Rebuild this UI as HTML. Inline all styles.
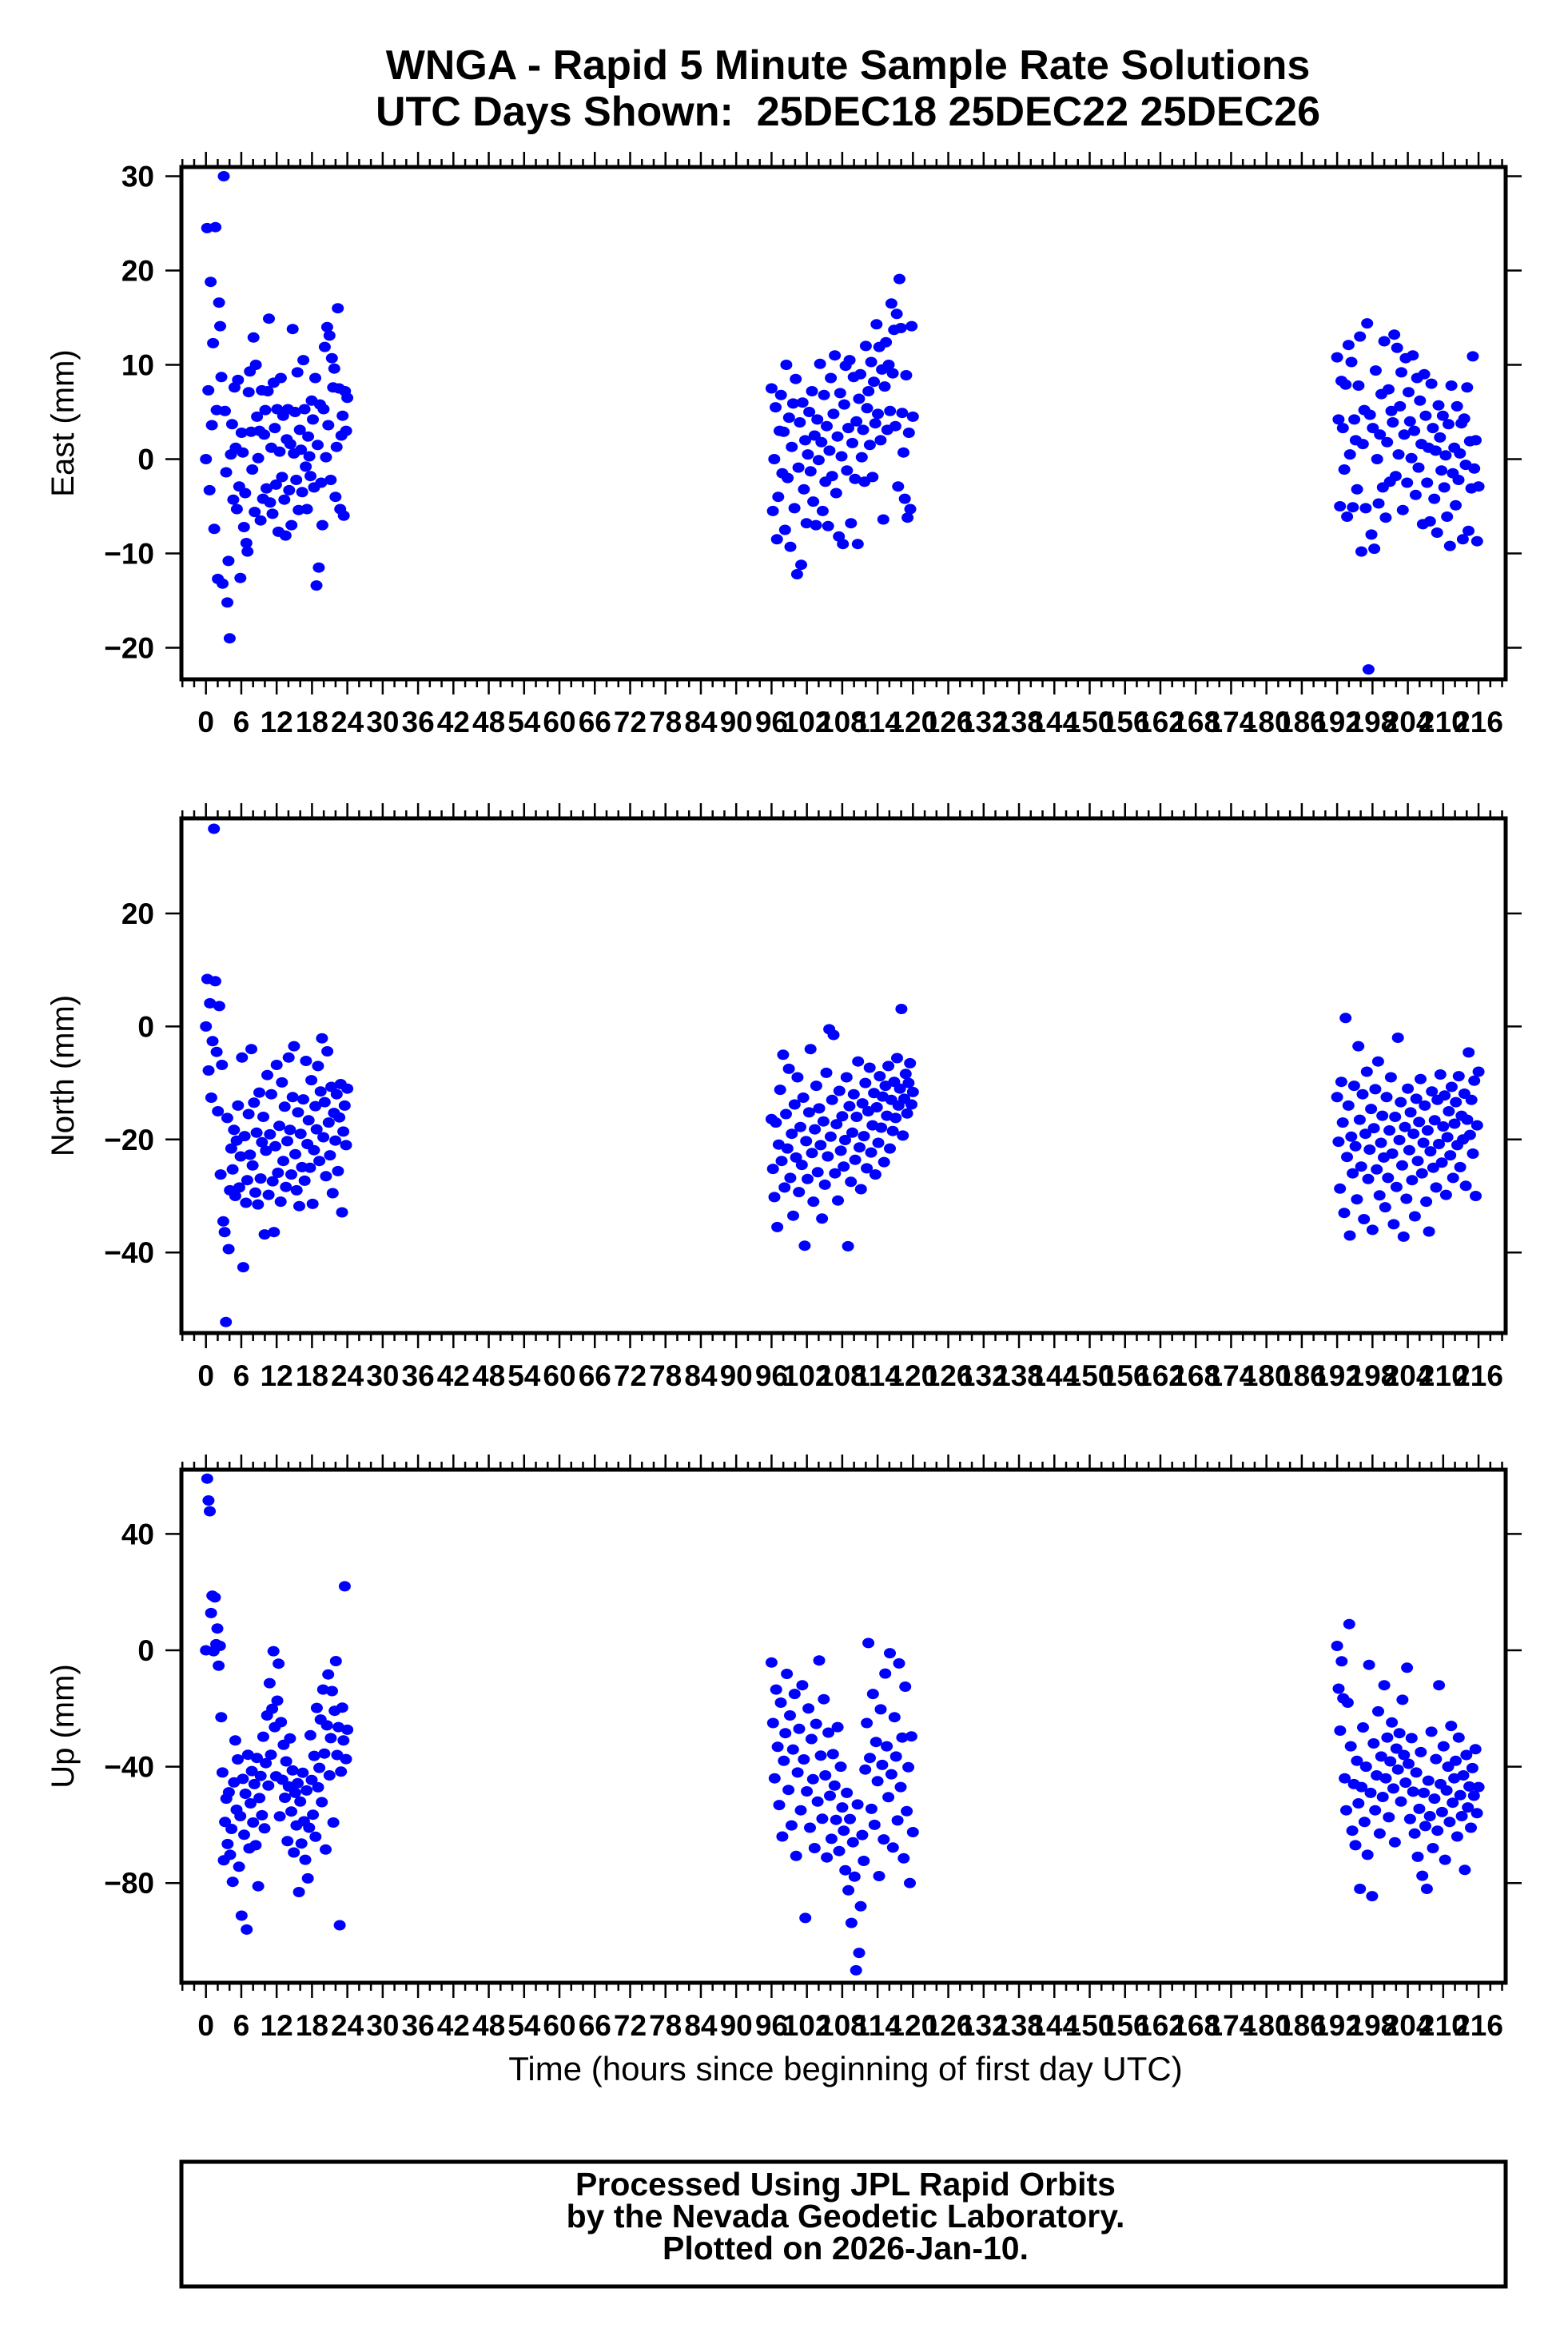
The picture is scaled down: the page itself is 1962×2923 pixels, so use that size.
<!DOCTYPE html>
<html><head><meta charset="utf-8"><title>WNGA Rapid 5 Minute Solutions</title>
<style>
html,body{margin:0;padding:0;background:#fff;}
svg{display:block;}
text{font-family:"Liberation Sans",Arial,sans-serif;fill:#000;}
.b{font-weight:bold;}
</style></head>
<body>
<svg id="chart" xmlns="http://www.w3.org/2000/svg" width="1962" height="2923" viewBox="0 0 1962 2923">
<rect x="0" y="0" width="1962" height="2923" fill="#fff"/>
<text class="b" x="1061" y="99" font-size="52" text-anchor="middle">WNGA - Rapid 5 Minute Sample Rate Solutions</text>
<text class="b" x="1061" y="157" font-size="52" text-anchor="middle">UTC Days Shown:&#160; 25DEC18 25DEC22 25DEC26</text>
<g id="panels"></g>
<text x="1058" y="2603" font-size="42" text-anchor="middle">Time (hours since beginning of first day UTC)</text>
<rect x="227" y="2705" width="1657" height="156" fill="none" stroke="#000" stroke-width="5"/>
<text class="b" x="1058" y="2747" font-size="41" text-anchor="middle">Processed Using JPL Rapid Orbits</text>
<text class="b" x="1058" y="2787" font-size="41" text-anchor="middle">by the Nevada Geodetic Laboratory.</text>
<text class="b" x="1058" y="2827" font-size="41" text-anchor="middle">Plotted on 2026-Jan-10.</text>
</svg>
<script>
// ---- data ----
var segStart = [0, 96, 192];
var segEnd = [24, 120, 216];
var xTickLabels = [0,6,12,18,24,30,36,42,48,54,60,66,72,78,84,90,96,102,108,114,120,126,132,138,144,150,156,162,168,174,180,186,192,198,204,210,216];
var eastTicks = [-20,-10,0,10,20,30];
var northTicks = [-40,-20,0,20];
var upTicks = [-80,-40,0,40];
var east1 = [0,24.5,7.3,-3.3,18.8,3.6,12.3,-7.4,24.6,5.2,-12.7,16.6,14.1,8.7,-13.2,30,5.1,-1.4,-15.2,-10.8,-19,0.5,3.7,-4.3,7.6,1.2,-5.3,8.4,-2.9,-12.6,2.8,0.7,-7.2,-3.6,-8.9,-9.8,7.1,9.3,2.9,-1.1,12.9,-5.6,10,4.5,0.1,3.0,-6.5,7.3,-4.2,2.6,5.2,-3.1,7.2,14.9,-4.6,1.2,-5.8,8.1,3.3,-2.7,5.3,-7.7,0.8,8.6,-1.9,4.6,-4.3,-8.1,2.1,5.3,-3.3,1.6,-7.0,13.8,0.6,5.0,-2.2,9.2,-5.4,3.1,1.0,-3.5,10.5,5.3,-0.8,-5.3,2.4,0.3,-1.8,6.2,4.2,-3.0,8.6,-13.4,1.5,-11.5,5.8,-2.5,-7.0,5.3,11.9,0.2,14.0,3.6,13.1,-2.2,10.7,7.6,9.6,-4.0,1.3,16.0,7.5,-5.3,2.5,4.6,-6.0,7.2,3.0,6.5];
var east2 = [7.5,-5.5,0.0,5.5,-8.5,-4,3,6.8,-1.5,2.9,-7.5,10.0,-2.0,4.4,-9.3,1.3,5.9,-5.2,8.5,-12.2,-0.9,3.9,-11.2,6.0,-3.2,2.0,-6.8,0.5,5.0,-1.3,7.2,-4.5,2.5,-7.0,4.2,-0.1,10.1,1.8,-5.5,6.8,-2.4,3.5,-7.1,0.9,8.6,-1.8,4.8,11.0,-3.6,2.4,-8.2,7.0,0.3,-9.0,5.8,9.9,-1.2,3.3,10.5,-6.8,1.7,8.7,-2.1,4.0,-9.0,6.4,9.0,0.2,3.1,-2.4,12.0,5.4,7.2,1.5,10.3,-1.9,8.2,3.8,14.3,4.8,11.9,2.0,9.5,-6.4,7.7,12.4,3.1,10.0,5.1,16.5,9.1,13.7,3.5,15.4,-2.9,19.1,13.9,4.9,0.7,-4.2,8.9,-6.2,2.8,-5.3,14.1,4.5];
var east3 = [10.8,4.2,-5.0,8.3,3.3,-1.1,7.9,-6.1,12.1,0.5,10.3,-5.1,4.2,2.0,-3.2,7.8,13.0,-9.8,1.6,5.2,-5.2,14.4,-22.3,4.7,-8.0,3.3,-9.5,9.4,0.0,-4.7,2.6,6.9,-3.0,12.5,-6.2,1.8,7.4,-2.4,5.1,3.9,13.2,-1.8,11.8,0.5,5.6,9.2,-5.4,2.6,10.7,-2.5,7.1,4.0,0.1,11.0,3.0,-3.8,8.6,-0.9,6.2,1.6,-6.9,9.0,4.6,-2.5,1.2,-6.6,8.0,3.3,-4.2,0.9,-7.8,5.7,2.3,-1.2,4.6,-3.0,0.4,-6.1,3.7,-9.2,7.8,-1.5,1.2,-4.9,5.6,-2.2,0.6,3.8,-8.5,4.3,-0.6,7.6,-7.6,1.9,-3.1,10.9,-1.0,2.0,-8.7,-2.9];
var north1 = [0,8.4,-7.8,4.1,-12.6,-2.6,35.0,8.0,-4.5,-15.0,3.6,-26.2,-6.8,-34.5,-36.4,-52.3,-16.2,-39.4,-29.0,-21.6,-25.3,-18.3,-30.0,-20.2,-14.0,-28.5,-23.0,-5.5,-42.6,-19.4,-31.2,-27.2,-15.5,-22.7,-4.0,-24.6,-13.5,-29.4,-18.8,-31.5,-11.7,-26.9,-20.5,-16.0,-36.8,-22.0,-8.6,-29.8,-19.1,-12.0,-27.4,-36.4,-21.2,-6.8,-25.9,-17.6,-31.0,-9.9,-23.8,-14.2,-28.4,-20.3,-5.5,-18.3,-26.2,-12.5,-3.5,-22.6,-29.0,-15.2,-31.8,-19.0,-24.9,-12.9,-27.3,-6.1,-20.8,-16.6,-25.0,-9.5,-31.4,-21.9,-14.1,-18.2,-7.0,-23.8,-11.5,-2.1,-19.6,-13.4,-26.5,-4.4,-17.0,-22.8,-10.7,-29.5,-15.3,-20.2,-12.0,-25.6,-16.1,-10.2,-32.9,-18.6,-14.0,-21.0,-11.0];
var north2 = [-16.4,-25.2,-30.2,-17.0,-35.5,-20.9,-11.2,-23.8,-5.0,-28.5,-15.5,-21.6,-7.5,-26.8,-19.0,-33.5,-13.8,-23.2,-9.0,-29.3,-17.8,-24.5,-12.6,-38.8,-20.3,-27.0,-15.2,-4.0,-22.4,-31.0,-18.2,-10.5,-25.8,-14.5,-21.0,-34.0,-16.8,-28.0,-8.2,-23.0,-0.5,-19.5,-13.0,-1.5,-26.0,-17.3,-30.8,-11.4,-22.0,-15.9,-24.8,-20.1,-9.0,-38.9,-14.1,-27.5,-18.8,-12.0,-23.6,-16.0,-6.2,-21.4,-28.8,-13.6,-19.4,-10.0,-25.1,-15.0,-7.3,-22.3,-17.5,-11.8,-26.2,-14.3,-20.6,-8.8,-17.9,-12.4,-24.0,-10.5,-15.8,-7.0,-21.6,-13.0,-18.5,-9.8,-16.2,-5.6,-14.0,-11.0,3.1,-19.3,-12.8,-8.4,-15.4,-10.0,-6.5,-13.8,-11.6];
var north3 = [-12.5,-20.4,-28.7,-9.8,-17.0,-33.0,1.5,-23.1,-14.0,-37.0,-19.5,-26.0,-10.5,-21.2,-30.6,-3.5,-16.5,-24.8,-12.0,-34.1,-19.0,-8.0,-27.0,-21.8,-14.6,-36.0,-18.0,-11.1,-25.3,-6.2,-29.9,-20.6,-15.8,-23.2,-32.0,-12.5,-26.8,-18.4,-9.0,-22.5,-35.0,-16.0,-28.4,-2.0,-20.1,-13.4,-24.6,-37.2,-17.8,-30.5,-11.0,-21.9,-15.2,-27.2,-19.0,-33.6,-12.8,-23.8,-16.9,-9.3,-26.0,-20.6,-14.0,-31.0,-18.4,-36.3,-22.1,-11.5,-25.0,-16.6,-28.5,-13.0,-20.8,-8.5,-24.1,-17.7,-12.2,-29.8,-19.6,-15.0,-22.8,-10.7,-26.8,-17.2,-13.4,-21.0,-8.8,-24.9,-15.8,-20.0,-11.9,-28.2,-16.5,-4.6,-19.2,-13.0,-22.5,-9.6,-30.0,-17.5,-8.0];
var up1 = [0,59.0,51.5,47.8,12.8,18.8,-0.3,18.2,2.1,7.5,-5.3,1.5,-23.0,-42.0,-72.2,-59.0,-51.0,-66.6,-48.8,-70.3,-61.4,-79.6,-45.4,-31.0,-54.8,-37.5,-74.4,-57.0,-91.2,-44.2,-63.4,-49.3,-96.0,-35.9,-68.1,-52.6,-41.5,-59.2,-46.0,-67.0,-37.0,-81.1,-50.8,-43.2,-56.7,-29.7,-61.2,-38.8,-22.4,-46.5,-11.3,-35.9,-20.1,-0.3,-26.4,-43.3,-17.3,-4.6,-57.1,-24.7,-44.5,-32.5,-50.7,-38.2,-65.6,-46.8,-30.3,-55.4,-41.3,-69.5,-49.0,-60.2,-45.7,-83.1,-52.0,-66.4,-42.1,-58.8,-72.0,-48.2,-78.4,-61.0,-29.2,-44.6,-56.5,-36.3,-64.1,-19.8,-47.1,-40.4,-23.8,-52.2,-13.5,-35.5,-68.5,-25.8,-8.3,-43.0,-30.2,-14.0,-59.2,-20.8,-3.7,-36.0,-26.4,-94.5,-41.7,-19.7,-31.0,22.0,-37.4,-27.3];
var up2 = [-4.2,-25.0,-44.0,-13.5,-33.2,-53.2,-18.0,-64.0,-38.0,-28.5,-8.1,-48.0,-22.4,-60.2,-34.1,-15.0,-70.7,-42.0,-27.0,-55.0,-12.0,-37.5,-92.0,-48.5,-20.0,-61.0,-30.5,-44.3,-68.0,-25.3,-52.0,-3.5,-36.2,-57.9,-16.8,-43.0,-71.2,-28.3,-50.0,-64.8,-35.7,-46.5,-58.3,-26.4,-69.0,-40.0,-54.0,-62.0,-75.6,-49.0,-82.5,-58.0,-93.7,-66.0,-77.8,-110.0,-53.0,-104.0,-88.0,-63.5,-72.4,-41.0,-25.0,2.5,-37.0,-54.5,-15.0,-60.0,-31.5,-45.0,-77.6,-20.3,-39.4,-65.0,-8.0,-33.0,-50.5,-1.0,-42.6,-67.8,-23.0,-36.5,-58.5,-4.5,-47.0,-30.0,-71.5,-12.5,-55.3,-40.2,-80.0,-29.6,-62.5];
var up3 = [1.5,-13.2,-27.6,-3.8,-16.5,-44.0,-55.0,-18.0,9.0,-33.0,-62.0,-46.0,-67.0,-38.0,-52.6,-82.0,-47.0,-26.5,-59.0,-40.0,-70.3,-5.0,-49.0,-84.5,-32.0,-55.0,-43.0,-21.0,-63.0,-36.5,-50.4,-12.0,-44.0,-30.0,-57.4,-38.2,-24.8,-47.5,-66.0,-33.8,-41.0,-28.5,-52.0,-17.0,-36.0,-45.5,-6.0,-39.0,-58.0,-30.2,-48.6,-63.0,-42.0,-71.0,-54.5,-35.0,-77.5,-49.0,-60.4,-82.0,-44.8,-57.0,-28.0,-68.0,-51.0,-37.4,-62.0,-12.0,-46.0,-55.6,-33.0,-72.0,-48.2,-40.0,-59.0,-26.0,-52.4,-44.0,-38.0,-64.0,-30.0,-49.8,-57.0,-43.0,-75.5,-36.0,-54.0,-46.8,-61.0,-40.5,-50.0,-34.0,-56.0,-47.0];

// ---- layout ----
var NS = "http://www.w3.org/2000/svg";
var root = document.getElementById('panels');
var X0 = 257.7, XS = 7.372, FL = 227, FR = 1884;
function xAt(h){ return X0 + h * XS; }
function mk(tag, attrs, parent){
  var e = document.createElementNS(NS, tag);
  for (var k in attrs) e.setAttribute(k, attrs[k]);
  (parent || root).appendChild(e);
  return e;
}
var panels = [
  {key:'east', title:'East (mm)', top:209, bottom:850, zeroY:574.5, s:11.8, ticks:eastTicks, series:[east1,east2,east3]},
  {key:'north', title:'North (mm)', top:1024, bottom:1668, zeroY:1284.4, s:7.07, ticks:northTicks, series:[north1,north2,north3]},
  {key:'up', title:'Up (mm)', top:1839, bottom:2481, zeroY:2065, s:3.64, ticks:upTicks, series:[up1,up2,up3]}
];
panels.forEach(function(p){
  var g = mk('g', {});
  
  
  function yAt(v){ return p.zeroY - v * p.s; }
  var pg = mk('g', {fill:'#0000ff'}, g);
  
  
  p.series.forEach(function(arr, si){
    var n = arr.length;
    for (var i = 0; i < n; i++){
      var h = segStart[si] + (segEnd[si] - segStart[si]) * i / (n - 1);
      var c = mk('ellipse', {cx:xAt(h).toFixed(1), cy:yAt(arr[i]).toFixed(1), rx:7.5, ry:6.5}, pg);
      
      
    }
  });
  var fr = mk('rect', {x:FL, y:p.top, width:FR-FL, height:p.bottom-p.top, fill:'none', stroke:'#000', 'stroke-width':5}, g);
  
  
  var xg = mk('g', {stroke:'#000', 'stroke-width':2.5}, g);
  
  
  for (var h = -4; h <= 220; h += 2){
    var len = (h % 6 === 0) ? 17 : 8;
    var x = xAt(h);
    mk('line', {x1:x, x2:x, y1:p.top-2, y2:p.top-2-len}, xg);
    mk('line', {x1:x, x2:x, y1:p.bottom+2, y2:p.bottom+2+len}, xg);
  }
  xTickLabels.forEach(function(v){
    var t = mk('text', {x:xAt(v).toFixed(1), y:p.bottom+66, 'font-size':37, 'text-anchor':'middle', 'class':'b'}, g);
    t.textContent = String(v);
    
    
  });
  p.ticks.forEach(function(v){
    var y = yAt(v);
    var l1 = mk('line', {x1:FL-2, x2:FL-20, y1:y, y2:y, stroke:'#000', 'stroke-width':2.5}, g);
    
    
    var l2 = mk('line', {x1:FR+2, x2:FR+20, y1:y, y2:y, stroke:'#000', 'stroke-width':2.5}, g);
    
    
    var t = mk('text', {x:193, y:(y+13).toFixed(1), 'font-size':37, 'text-anchor':'end', 'class':'b'}, g);
    t.textContent = (v < 0 ? '\u2212' + Math.abs(v) : String(v));
    
    
  });
  var cy = (p.top + p.bottom) / 2;
  var at = mk('text', {x:79, y:cy, 'font-size':40, 'text-anchor':'middle', transform:'rotate(-90 79 '+cy+')', dy:'13'}, g);
  at.textContent = p.title;
  
  
});
</script>
</body></html>
